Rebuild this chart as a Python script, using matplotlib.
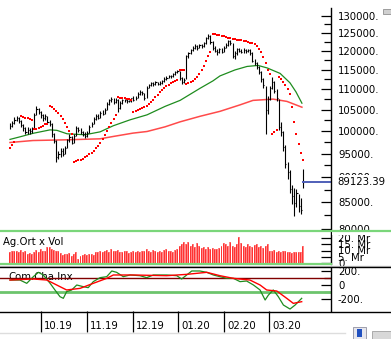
import numpy as np
import matplotlib.pyplot as plt
import matplotlib.transforms as mtransforms
from matplotlib.patches import Rectangle
from matplotlib.lines import Line2D

# daily bars (index 0 = mid Sep 2019, last = 20 Mar 2020)
close = [101200, 101800, 102600, 103100, 102300, 101400, 100600, 99800, 100300, 99900,
         100400, 103800, 105200, 104300, 103600, 102900, 103400, 102100, 101700, 99200,
         97800, 94300, 94800, 95600, 94900, 96200, 97900, 98600, 97400, 98800,
         100700, 100200, 99700, 99300, 98900, 99600, 100900, 101700, 102800, 103500,
         103100, 104200, 104000, 104900, 106300, 107200, 107500, 106800, 107400, 105400,
         106600, 107300, 107300, 107000, 107100, 107700, 107400, 107900, 108800, 109300,
         109000, 107800, 110400, 111000, 111500, 111200, 111700, 111300, 111600, 112100,
         112600, 112900, 113400, 113200, 113800, 114300, 114500, 112800, 111900, 112300,
         118500, 119400, 120200, 120900, 121300, 120800, 121600, 121200, 122100, 123500,
         124200, 122400, 120700, 120100, 119600, 120400, 119800, 120900, 121700, 122600,
         122200, 118600, 119300, 120500, 120100, 119700, 120300, 119900, 120200, 119400,
         117300, 116600, 115800, 114300, 112600, 111000, 104800, 107500, 110300, 111800,
         109600, 107800, 101000, 99800, 96500, 92800, 91000, 87600, 86300, 84900,
         86800, 84300, 83600, 89123.39]
high = [101900, 102300, 103200, 103500, 103300, 102500, 101600, 100900, 100800, 100700,
        100900, 104200, 105800, 105400, 104700, 104000, 103900, 103500, 102600, 101800,
        99500, 97900, 95600, 96200, 96100, 96700, 98300, 99200, 98800, 99300,
        101200, 101000, 100600, 100100, 99700, 99900, 101300, 102100, 103200, 104000,
        103900, 104600, 104800, 105300, 106700, 107600, 108000, 107700, 107800, 107500,
        107000, 107600, 107600, 107500, 107400, 107900, 108200, 108300, 109200, 109800,
        109600, 109100, 110800, 111400, 111900, 111800, 112000, 111900, 112000, 112400,
        113000, 113300, 113700, 113700, 114200, 114600, 115000, 114600, 113100, 112800,
        119000, 119800, 120600, 121300, 121800, 121600, 122000, 121900, 122500, 123900,
        124800, 124300, 122600, 121200, 120500, 120800, 120700, 121300, 122200, 123100,
        123000, 122300, 119900, 120900, 120800, 120500, 120700, 120600, 120600, 120400,
        119600, 117700, 116900, 115900, 114500, 112900, 110900, 108200, 110900, 113000,
        112000, 110000, 107500, 102000, 100000, 96800, 93200, 91500, 88500, 87800,
        87600, 86600, 85800, 91700]
low = [100400, 100900, 101500, 102200, 101900, 100900, 100100, 99300, 99400, 99400,
       99600, 100500, 103600, 103900, 103100, 102400, 102600, 101800, 101200, 98700,
       97300, 93100, 93800, 94300, 94400, 94800, 96100, 97600, 97000, 97300,
       98800, 99700, 99300, 98800, 98500, 98700, 99500, 100800, 101600, 102600,
       102700, 103000, 103600, 103900, 104800, 106100, 106900, 106400, 106600, 104300,
       105200, 106400, 106900, 106600, 106700, 106900, 107100, 107200, 107800, 108600,
       108600, 107400, 107900, 110200, 110800, 110900, 111000, 111000, 111100, 111400,
       111900, 112400, 112700, 112800, 113100, 113600, 114000, 112300, 111400, 111500,
       112600, 118200, 119200, 120000, 120600, 120300, 120700, 120800, 121000, 121900,
       123200, 122000, 120200, 119600, 119000, 119300, 119400, 119700, 120800, 121400,
       121700, 118000, 117900, 119000, 119700, 119300, 119500, 119500, 119600, 119000,
       116900, 116100, 115200, 113800, 111900, 110400, 99300, 103900, 107300, 110100,
       109100, 107000, 100200, 98900, 95500, 92000, 89600, 86800, 84600, 82400,
       84200, 83200, 82700, 87900]

# parabolic SAR dots (nan = no dot)
sar = [96200, 96900, 97500, np.nan, np.nan,
       103500, 103300, 103100, 102900, 102700, 102500,
       100400, 100500, 100700, 100900, 101200, 101600, 101700,
       105800, 105500, 105200, 104700, 104100, 103400, 102700, 101800, 100900, 100100, 99400,
       93100, 93300, 93500, 93700, 93900, 94200, 94500, 94800, 95200, 95600,
       96100, 96700, 97400, 98200, 99100, 100100, 101000, 101900, 102800, 103700,
       108000, 107900, 107800, 107700, 107600, 107500, 107400,
       104500, 104700, 104900, 105100, 105300, 105600, 105900, 106300, 106800, 107400,
       108000, 108600, 109300, 109800, 110300, 110700, 111100, 111500, 111800, 112100, 112400,
       115000, 114900, 114800,
       111400, 111500, 111700, 112000, 112500, 113100, 113900, 114900, 116000, 117200, 118500, 119800,
       124800, 124600, 124400, 124300, 124100, 124000, 123800, 123700, 123500, 123400,
       123300, 123100, 123000, 122900, 122800, 122700, 122500, 122300, 122100, 121800,
       121200, 120500, 119600, 118400, 116800, 115000, 113800,
       99300, 99700, 100300,
       113000, 112600, 111900, 111000, 110000, 108800, 105500, 102000, 99300, 97000, 95200, 93700]

# moving averages read at a few positions (bar index, value)
ma_fast_x = [0, 4.5, 10.4, 18.2, 21.3, 25.9, 34.0, 40.9, 46.8, 54.5, 62.2, 70.4, 77.2,
             86.2, 92.1, 95.3, 102.1, 107.6, 112.6, 116.7, 122.6, 127.1, 129.8, 132.5]
ma_fast = [98100, 98670, 99460, 100250, 100140, 99360, 99140, 99800, 101180, 102570, 103740,
           105760, 107210, 110180, 112070, 113350, 114900, 115820, 116090, 115430, 114000,
           111570, 109300, 106530]
ma_slow_x = [0, 10.4, 25.9, 40.9, 46.8, 55.8, 62.2, 70.4, 77.2, 86.2, 95.3, 104.4, 110.3,
             119.4, 125.7, 132.5]
ma_slow = [97410, 97850, 98010, 98230, 98750, 99510, 99880, 100950, 102100, 103390, 104570,
           106120, 107210, 107520, 106960, 105560]

# volume (millions)
volume = [9, 10, 9.5, 10, 8.5, 10.5, 9, 9.5,
          7.5, 8, 7, 8.5,
          10.5, 9, 11.5, 10, 10,
          13, 13, 11,
          10.5, 9.5, 10,
          8, 6.5, 7, 7.5, 8, 6, 7.5, 8.5, 3, 6,
          6.5, 7, 6.5, 7, 7.5, 6.5,
          9, 8.5, 9.5, 9, 10, 10.5, 9, 11, 10, 9.5, 10.5, 9,
          8.5, 10, 9.5, 8, 9, 9.5, 8.5, 10, 9,
          10, 9.5, 11, 10, 9, 10.5, 9.5, 8.5, 10, 9, 10.5, 11, 9.5, 10, 9, 10.5, 11,
          14, 15.5, 17, 15, 16.5, 14, 15, 13, 16, 14,
          12, 13, 11.5, 12.5, 11, 12, 11.5, 11, 12,
          14, 16, 15, 13.5, 17, 14, 13, 15.5, 21, 16, 14, 13, 15.5, 14, 13,
          14.5, 15, 13, 14, 12, 13.5, 15,
          10, 9.5, 10.5, 9, 10, 8.5, 9.5, 10, 9,
          9, 8, 8.5, 9, 8.5, 9, 14]

# commodity channel index and its average
cci_x = [0, 4.5, 7.6, 10.6, 12.9, 15.1, 18.2, 20.4, 22.7, 24.2, 25.7, 28.0, 30.3, 33.3, 35.5,
         37.8, 40.9, 43.9, 46.2, 48.4, 51.4, 54.5, 59.0, 62.0, 65.1, 71.1, 75.7, 77.9, 80.2,
         82.5, 86.2, 89.3, 92.3, 95.3, 98.4, 101.4, 104.4, 107.4, 110.5, 113.5, 115.8, 117.3,
         119.5, 121.8, 124.1, 127.1, 129.4, 132.4]
cci = [71, 71, 24, 119, 181, 143, 24, -71, -167, -190, -95, -71, 0, -24, -38, 48, 105, 119,
       200, 181, 119, 143, 133, 105, 143, 143, 133, 86, 143, 200, 200, 181, 143, 119, 95, 95,
       48, 57, 0, -71, -214, -143, -71, -167, -286, -343, -286, -190]
sig_x = [0, 10.6, 16.7, 21.2, 25.7, 31.8, 37.8, 43.9, 46.9, 56.0, 71.1, 80.2, 89.3, 95.3,
         101.4, 108.9, 113.5, 116.5, 121.1, 125.6, 128.6, 132.4]
sig = [71, 86, 71, 0, -71, -48, 24, 95, 143, 143, 133, 152, 181, 133, 95, 71, 0, -71, -86,
       -190, -262, -238]

month_pos = [13.9, 34.95, 55.8, 76.3, 97.1, 117.6]
month_lab = ['10.19', '11.19', '12.19', '01.20', '02.20', '03.20']

price_ticks = [80000, 85000, 90000, 95000, 100000, 105000, 110000, 115000, 120000, 125000, 130000]
vol_ticks = [0, 5, 10, 15, 20]
vol_labels = ['0', '5. Mr', '10. Mr', '15. Mr', '20. Mr']
cci_ticks = [-200, 0, 200]
cci_labels = ['-200.', '0', '200.']
last = 89123.39

W, H = 391, 339
fig = plt.figure(figsize=(W / 100, H / 100), dpi=100)
fig.patch.set_facecolor('white')
FS = 7.3


def px_axes(x0, y0, x1, y1):
    return fig.add_axes([x0 / W, 1 - y1 / H, (x1 - x0) / W, (y1 - y0) / H])


def right_only(a):
    for s in ['left', 'top', 'bottom']:
        a.spines[s].set_visible(False)
    a.spines['right'].set_linewidth(1.0)
    a.yaxis.tick_right()
    a.tick_params(axis='y', which='both', direction='in', labelsize=FS, pad=5, width=0.9)
    a.tick_params(axis='y', which='major', length=7)
    a.tick_params(axis='y', which='minor', length=5)
    a.set_xlim(-4.54, 145.7)


idx = np.arange(len(close))

# ---- price panel
ax = px_axes(0, 8, 331, 229)
right_only(ax)
ax.set_yscale('log')
ax.set_ylim(80060, 132300)
ax.set_yticks(price_ticks)
ax.set_yticklabels([f'{v}.' for v in price_ticks])
ax.set_yticks([v + 2500 for v in price_ticks[:-1]], minor=True)
ax.set_yticklabels([], minor=True)
ax.set_xticks([])

ax.plot(ma_slow_x, ma_slow, color='#ff4a4a', lw=1.1)
ax.plot(ma_fast_x, ma_fast, color='#1e8c1e', lw=0.9)
ax.vlines(idx, low, high, color='black', lw=0.8)
ax.hlines(close, idx, idx + 0.5, color='black', lw=0.8)
ax.plot(idx, sar, 's', ms=1.7, mew=0, color='red')

ax.plot([idx[-1], 145.7], [last, last], color='#4f5fb8', lw=1.4, clip_on=False)
ttr = mtransforms.offset_copy(ax.get_yaxis_transform(), fig=fig, x=6, y=0, units='dots')
ax.text(1.0, last, f'{last:.2f}', transform=ttr, fontsize=FS, va='center', ha='left',
        zorder=5, bbox=dict(facecolor='white', edgecolor='none', pad=0.8))

# ---- volume panel
axv = px_axes(0, 232, 331, 264)
right_only(axv)
axv.set_ylim(-0.8, 24.8)
axv.bar(idx, volume, width=0.9, color='#ff8484', linewidth=0)
axv.vlines(idx - 0.3, 0, volume, color='#ff1010', lw=0.5)
axv.set_yticks(vol_ticks)
axv.set_yticklabels(vol_labels)
axv.set_xticks([])
axv.text(3 / 331, 0.7, 'Ag.Ort x Vol', transform=axv.transAxes, fontsize=FS, va='center')

# ---- CCI panel
axc = px_axes(0, 267, 331, 311)
right_only(axc)
axc.set_ylim(-371, 257)
axc.axhline(100, color='#800000', lw=1.0)
axc.axhline(-100, color='#6cc46c', lw=2.0)
axc.plot(cci_x, cci, color='#1e8c1e', lw=0.9)
axc.plot(sig_x, sig, color='#ff0000', lw=1.0)
axc.set_yticks(cci_ticks)
axc.set_yticklabels(cci_labels)
axc.set_yticks([-100, 100], minor=True)
axc.text(8 / 331, 1 - (277.5 - 267) / 44, 'Com.Cha.Inx', transform=axc.transAxes,
         fontsize=FS, va='center', zorder=1)

axc.set_xticks(month_pos)
axc.set_xticklabels([])
axc.tick_params(axis='x', direction='out', length=15, width=0.9, color='black')
tx = mtransforms.offset_copy(axc.get_xaxis_transform(), fig=fig, x=3, y=-15, units='dots')
for p, lab in zip(month_pos, month_lab):
    axc.text(p, 0, lab, transform=tx, ha='left', va='center', fontsize=FS)

# ---- frame lines and cover strips (figure pixels)
def hline_px(y, x0, x1, color, lw):
    fig.add_artist(Line2D([x0 / W, x1 / W], [1 - y / H, 1 - y / H], color=color, lw=lw,
                          transform=fig.transFigure, zorder=6))


fig.add_artist(Rectangle((332 / W, 1 - 235 / H), (W - 332) / W, 5 / H, transform=fig.transFigure,
                         facecolor='white', edgecolor='none', zorder=5))
hline_px(230.5, 0, W, '#7ad67a', 1.6)
hline_px(263.5, 0, 331, '#7ad67a', 1.6)
hline_px(265.5, 0, W, '#c8c8c8', 1.0)
hline_px(267.3, 0, W, 'black', 1.0)
hline_px(311.5, 0, W, 'black', 1.0)
hline_px(332.5, 0, 345, '#dddddd', 1.0)

# small toolbar icons
fig.add_artist(Rectangle((383 / W, 1 - 14 / H), 8 / W, 5 / H, transform=fig.transFigure,
                         facecolor='#d0d0d0', edgecolor='#909090', lw=0.6, zorder=6))
fig.add_artist(Rectangle((353 / W, 1 - 339 / H), 13 / W, 12 / H, transform=fig.transFigure,
                         facecolor='#e6e6ee', edgecolor='#9090a0', lw=0.6, zorder=6))
fig.add_artist(Rectangle((357 / W, 1 - 337 / H), 5 / W, 8 / H, transform=fig.transFigure,
                         facecolor='#2050c0', edgecolor='none', zorder=7))
fig.add_artist(Rectangle((372 / W, 1 - 339 / H), 19 / W, 8 / H, transform=fig.transFigure,
                         facecolor='#d8d8d8', edgecolor='#a0a0a0', lw=0.6, zorder=6))

fig.savefig('out.png', dpi=100, facecolor='white')
